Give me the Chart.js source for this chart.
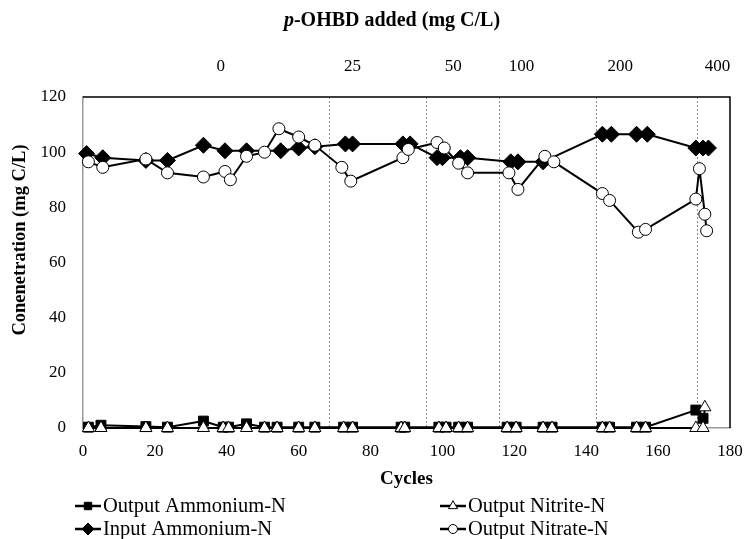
<!DOCTYPE html>
<html>
<head>
<meta charset="utf-8">
<script src="https://cdn.jsdelivr.net/npm/chart.js@4.4.1/dist/chart.umd.min.js"></script>
<style>
  html, body { margin: 0; padding: 0; background: #fff; }
  #wrap { width: 744px; height: 539px; }
</style>
</head>
<body>
<div id="wrap"><canvas id="chart"></canvas></div>
<script>
// ---- data ----
const ammoniumX = [1.5, 5, 17.5, 23.5, 33.5, 39, 40.5, 45.5, 50.5, 54, 60, 64.5, 72.5, 75, 88.5, 89.5, 99, 101, 104.5, 107, 118, 120.5, 128, 130.5, 144.5, 146.5, 154, 156.5, 170.5, 172.5];
const ammoniumY = [0.3, 1, 0.5, 0.3, 2.5, 0.3, 0.3, 1.5, 0.3, 0.3, 0.3, 0.3, 0.3, 0.3, 0.3, 0.3, 0.3, 0.3, 0.3, 0.3, 0.3, 0.3, 0.3, 0.3, 0.3, 0.3, 0.3, 0.3, 6.5, 3.5];

const nitriteX = [1.5, 5, 17.5, 23.5, 33.5, 39, 40.5, 45.5, 50.5, 54, 60, 64.5, 72.5, 75, 88.5, 89.5, 99, 101, 104.5, 107, 118, 120.5, 128, 130.5, 144.5, 146.5, 154, 156.5, 170.5, 172.5, 173];
const nitriteY = [0, 0, 0, 0, 0, 0, 0, 0, 0, 0, 0, 0, 0, 0, 0, 0, 0, 0, 0, 0, 0, 0, 0, 0, 0, 0, 0, 0, 0, 0, 7.5];

const inputX = [1, 5.5, 17.5, 23.5, 33.5, 39.5, 45.5, 55, 60, 64.5, 73, 75, 89, 91, 98.5, 100, 105, 107, 119, 121, 128, 144.5, 147, 154, 157, 170.5, 172.5, 174];
const inputY = [99.5, 98, 97, 97, 102.5, 100.5, 100.5, 100.5, 101.5, 102, 103, 103, 103, 103, 98, 98, 98, 98, 96.5, 96.5, 96.5, 106.5, 106.5, 106.5, 106.5, 101.5, 101.5, 101.5];

const nitrateX = [1.5, 5.5, 17.5, 23.5, 33.5, 39.5, 41, 45.5, 50.5, 54.5, 60, 64.5, 72, 74.5, 89, 90.5, 98.5, 100.5, 104.5, 107, 118.5, 121, 128.5, 131, 144.5, 146.5, 154.5, 156.5, 170.5, 171.5, 173, 173.5];
const nitrateY = [96.5, 94.5, 97.5, 92.5, 91, 93, 90, 98.5, 100, 108.5, 105.5, 102.5, 94.5, 89.5, 98, 101, 103.5, 101.5, 96, 92.5, 92.5, 86.5, 98.5, 96.5, 85, 82.5, 71, 72, 83, 94, 77.5, 71.5];

// p-OHBD phases: boundaries (cycles) and dose labels
const phaseBreaks = [68.3, 95.3, 115.8, 142.8, 170.8];
const doseLabels = ['0', '25', '50', '100', '200', '400'];
const doseLabelX = [38.3, 75, 103, 122, 149.5, 176.5];

const toPoints = (xs, ys) => xs.map((x, i) => ({ x: x, y: ys[i] }));

const FONT = "'Liberation Serif', 'Times New Roman', serif";

const overlay = {
  id: 'overlay',
  beforeDatasetsDraw(chart) {
    const { ctx, chartArea: a, scales: { x } } = chart;
    ctx.save();
    // dotted phase lines
    ctx.strokeStyle = '#8a8a8a';
    ctx.lineWidth = 1;
    ctx.setLineDash([2, 2]);
    phaseBreaks.forEach(c => {
      const px = Math.round(x.getPixelForValue(c)) + 0.5;
      ctx.beginPath();
      ctx.moveTo(px, a.top);
      ctx.lineTo(px, a.bottom);
      ctx.stroke();
    });
    ctx.setLineDash([]);
    // top and right border
    ctx.strokeStyle = '#000';
    ctx.lineWidth = 1.5;
    ctx.beginPath();
    ctx.moveTo(a.left, a.top);
    ctx.lineTo(a.right, a.top);
    ctx.lineTo(a.right, a.bottom);
    ctx.stroke();
    ctx.restore();
  },
  afterDraw(chart) {
    const { ctx, scales: { x } } = chart;
    ctx.save();
    ctx.fillStyle = '#000';
    ctx.textBaseline = 'middle';
    // title with italic p
    ctx.font = 'italic bold 20px ' + FONT;
    const pW = ctx.measureText('p').width;
    ctx.font = 'bold 20px ' + FONT;
    const rest = '-OHBD added (mg C/L)';
    const rW = ctx.measureText(rest).width;
    let tx = 392 - (pW + rW) / 2;
    ctx.textAlign = 'left';
    ctx.font = 'italic bold 20px ' + FONT;
    ctx.fillText('p', tx, 21);
    ctx.font = 'bold 20px ' + FONT;
    ctx.fillText(rest, tx + pW, 21);
    // y axis title
    ctx.save();
    ctx.translate(20, 240);
    ctx.rotate(-Math.PI / 2);
    ctx.textAlign = 'center';
    ctx.font = 'bold 18.5px ' + FONT;
    ctx.fillText('Conenetration (mg C/L)', 0, 0);
    ctx.restore();
    // dose labels
    ctx.font = '17px ' + FONT;
    ctx.textAlign = 'center';
    doseLabels.forEach((t, i) => {
      ctx.fillText(t, x.getPixelForValue(doseLabelX[i]), 67);
    });
    // legend
    const items = [
      { ds: 0, x: 75, y: 506 },
      { ds: 1, x: 440, y: 506 },
      { ds: 2, x: 75, y: 529 },
      { ds: 3, x: 440, y: 529 }
    ];
    items.forEach(it => {
      const d = chart.data.datasets[it.ds];
      ctx.strokeStyle = '#000';
      ctx.lineWidth = 2.5;
      ctx.beginPath();
      ctx.moveTo(it.x, it.y);
      ctx.lineTo(it.x + 26, it.y);
      ctx.stroke();
      ctx.fillStyle = d.pointBackgroundColor;
      ctx.strokeStyle = '#000';
      ctx.lineWidth = 1;
      Chart.helpers.drawPoint(ctx, {
        pointStyle: d.pointStyle,
        radius: d.pointRadius * 0.75,
        borderWidth: 1
      }, it.x + 13, it.y);
      ctx.fillStyle = '#000';
      ctx.textAlign = 'left';
      ctx.font = '20.5px ' + FONT;
      ctx.fillText(d.label, it.x + 28, it.y + 1);
    });
    ctx.restore();
  }
};

const series = (label, xs, ys, style, fill, radius, order) => ({
  label: label,
  data: toPoints(xs, ys),
  showLine: true,
  clip: false,
  borderColor: '#000',
  borderWidth: 2,
  pointStyle: style,
  pointRadius: radius,
  pointHoverRadius: radius,
  pointBackgroundColor: fill,
  pointBorderColor: '#000',
  pointBorderWidth: 1,
  order: order
});

new Chart(document.getElementById('chart'), {
  type: 'scatter',
  data: {
    datasets: [
      series('Output Ammonium-N', ammoniumX, ammoniumY, 'rect', '#000', 7, 3),
      series('Output Nitrite-N', nitriteX, nitriteY, 'triangle', '#fff', 7, 2),
      series('Input Ammonium-N', inputX, inputY, 'rectRot', '#000', 8, 1),
      series('Output Nitrate-N', nitrateX, nitrateY, 'circle', '#fff', 6, 0)
    ]
  },
  options: {
    responsive: true,
    maintainAspectRatio: false,
    animation: false,
    layout: { padding: { left: 0, right: 14, top: 97, bottom: 45 } },
    plugins: {
      legend: { display: false },
      tooltip: { enabled: false }
    },
    scales: {
      x: {
        type: 'linear',
        min: 0,
        max: 180,
        grid: { display: false },
        border: { color: '#999', width: 1.5 },
        ticks: { stepSize: 20, color: '#000', padding: 5, font: { family: FONT, size: 17 } },
        title: { display: true, text: 'Cycles', color: '#000', padding: { top: 4, bottom: 4 }, font: { family: FONT, size: 19, weight: 'bold' } },
        afterFit: s => { s.height = 66; s.paddingRight = 0; s.paddingLeft = 0; }
      },
      y: {
        min: 0,
        max: 120,
        grid: { display: false },
        border: { color: '#999', width: 1.5 },
        ticks: { stepSize: 20, color: '#000', padding: 9, font: { family: FONT, size: 17 } },
        title: { display: false },
        afterFit: s => { s.width = 83; s.paddingTop = 0; s.paddingBottom = 0; }
      }
    }
  },
  plugins: [overlay]
});
</script>
</body>
</html>
